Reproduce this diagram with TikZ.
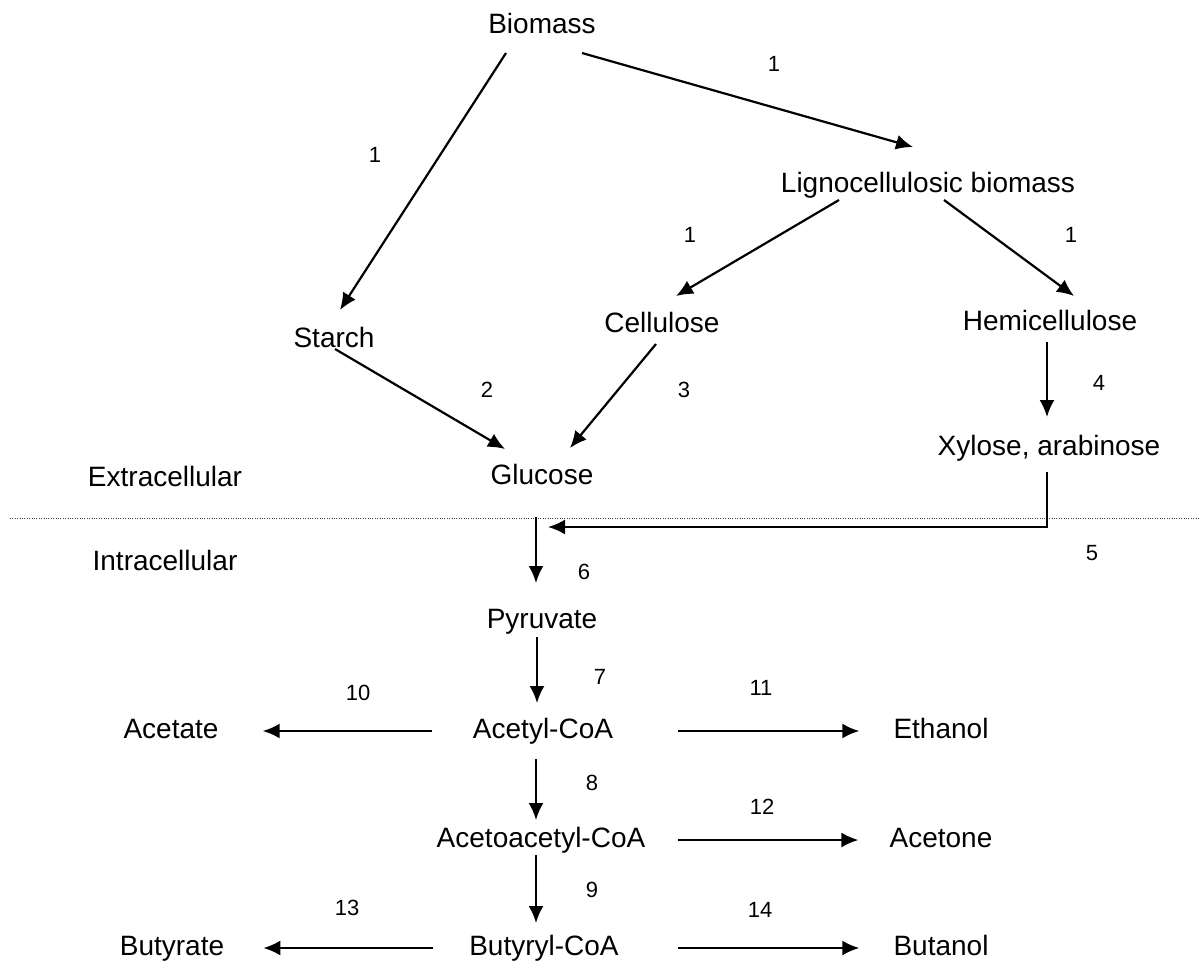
\documentclass[tikz,border=0pt]{standalone}
\usepackage{fontspec}
\setmainfont{Liberation Sans}
\usetikzlibrary{arrows.meta}

\begin{document}
\begin{tikzpicture}[
    x=1pt, y=-1pt,
    >={Latex[length=17pt,width=15pt]},
    chem/.style={inner sep=0pt, text height=20pt, text depth=6pt,
        font=\fontsize{28}{32}\selectfont},
    num/.style={inner sep=0pt, font=\fontsize{22}{26}\selectfont},
    arrow/.style={->, line width=2.2pt},
    divider/.style={line width=0.9pt, dash pattern=on 1pt off 1.4pt, black!75}
]
\useasboundingbox (0,0) rectangle (1199,963);

% Feedstock
\node[chem] (biomass) at (542,27) {Biomass};
\node[chem] (ligno) at (928,185) {Lignocellulosic biomass};
\node[chem] (starch) at (334,340) {Starch};
\node[chem] (cellulose) at (662,325) {Cellulose};
\node[chem] (hemi) at (1050,323) {Hemicellulose};
\node[chem] (glucose) at (542,477) {Glucose};
\node[chem] (xylose) at (1049,448) {Xylose, arabinose};

% Compartments
\node[chem] (extra) at (165,479) {Extracellular};
\node[chem] (intra) at (165,563) {Intracellular};
\draw[divider] (10,518) -- (1199,518);

% Metabolism
\node[chem] (pyruvate) at (542,621) {Pyruvate};
\node[chem] (acetyl) at (543,731) {Acetyl-CoA};
\node[chem] (acetate) at (171,731) {Acetate};
\node[chem] (ethanol) at (941,731) {Ethanol};
\node[chem] (acetoacetyl) at (541,840) {Acetoacetyl-CoA};
\node[chem] (acetone) at (941,840) {Acetone};
\node[chem] (butyryl) at (544,948) {Butyryl-CoA};
\node[chem] (butyrate) at (172,948) {Butyrate};
\node[chem] (butanol) at (941,948) {Butanol};
\coordinate (join) at (548,527);

% Hydrolysis arrows
\draw[arrow] ([shift={(-36,26)}]biomass.center) -- ([shift={(6,-30)}]starch.center);
\draw[arrow] ([shift={(40,26)}]biomass.center) -- ([shift={(-15,-38)}]ligno.center);
\draw[arrow] ([shift={(-89,15)}]ligno.center) -- ([shift={(14,-29)}]cellulose.center);
\draw[arrow] ([shift={(16,15)}]ligno.center) -- ([shift={(24,-27)}]hemi.center);
\draw[arrow] ([shift={(1,9)}]starch.center) -- ([shift={(-37,-28)}]glucose.center);
\draw[arrow] ([shift={(-6,19)}]cellulose.center) -- ([shift={(28,-29)}]glucose.center);
\draw[arrow] ([shift={(-3,19)}]hemi.center) -- ([shift={(-2,-31)}]xylose.center);
\draw[arrow] ([shift={(-2,24)}]xylose.center) |- (join);

% Main pathway
\draw[arrow] ([shift={(-6,40)}]glucose.center) -- ([shift={(-6,-38)}]pyruvate.center);
\draw[arrow] ([shift={(-5,16)}]pyruvate.center) -- ([shift={(-6,-28)}]acetyl.center);
\draw[arrow] ([shift={(-7,28)}]acetyl.center) -- ([shift={(-5,-20)}]acetoacetyl.center);
\draw[arrow] ([shift={(-5,15)}]acetoacetyl.center) -- ([shift={(-8,-25)}]butyryl.center);

% Products
\draw[arrow, shorten <=41pt, shorten >=44pt] (acetyl.west) -- (acetate.east);
\draw[arrow, shorten <=65pt, shorten >=34pt] (acetyl.east) -- (ethanol.west);
\draw[arrow, shorten <=33pt, shorten >=31pt] (acetoacetyl.east) -- (acetone.west);
\draw[arrow, shorten <=36pt, shorten >=39pt] (butyryl.west) -- (butyrate.east);
\draw[arrow, shorten <=59pt, shorten >=34pt] (butyryl.east) -- (butanol.west);

% Step numbers
\node[num] (n1a) at (375,155) {1};
\node[num] (n1b) at (774,64) {1};
\node[num] (n1c) at (690,235) {1};
\node[num] (n1d) at (1071,235) {1};
\node[num] (n2) at (487,390) {2};
\node[num] (n3) at (684,390) {3};
\node[num] (n4) at (1099,383) {4};
\node[num] (n5) at (1092,553) {5};
\node[num] (n6) at (584,572) {6};
\node[num] (n7) at (600,677) {7};
\node[num] (n8) at (592,783) {8};
\node[num] (n9) at (592,890) {9};
\node[num] (n10) at (358,693) {10};
\node[num] (n11) at (761,688) {11};
\node[num] (n12) at (762,807) {12};
\node[num] (n13) at (347,908) {13};
\node[num] (n14) at (760,910) {14};

\end{tikzpicture}
\end{document}
